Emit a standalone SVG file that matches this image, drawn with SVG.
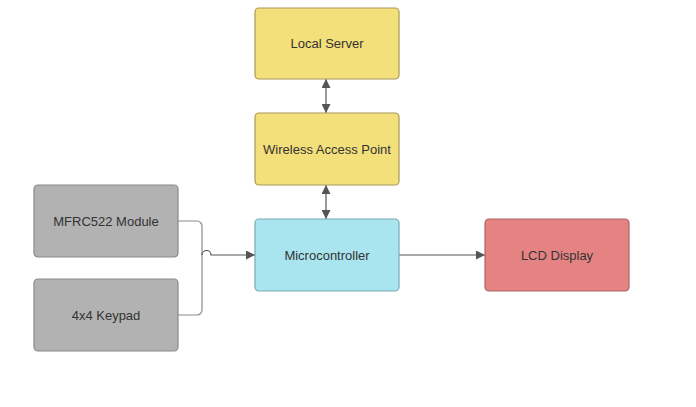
<svg xmlns="http://www.w3.org/2000/svg" width="696" height="407" viewBox="0 0 696 407">
<style>
.n{stroke-width:1.2}
.y{fill:#F4E07A;stroke:#A8975A}
.c{fill:#A9E5EF;stroke:#7AA9B3}
.r{fill:#E58383;stroke:#A86565}
.g{fill:#B2B2B2;stroke:#8A8A8A}
text{font-family:"Liberation Sans",Arial,sans-serif;font-size:13px;fill:#333;text-anchor:middle;dominant-baseline:central}
.l{fill:none;stroke:#555;stroke-width:1.2}
.b{fill:none;stroke:#8a8a8a;stroke-width:1.2}
</style>
<defs>
<marker id="a" viewBox="0 0 10 10" refX="10" refY="5" markerWidth="9.5" markerHeight="9" markerUnits="userSpaceOnUse" orient="auto-start-reverse">
<path d="M0,0L10,5L0,10z" fill="#555"/>
</marker>
</defs>
<rect width="696" height="407" fill="#fff"/>
<g id="connectors">
<path class="b" d="M178,221H197a5,5 0 0 1 5,5V310a5,5 0 0 1 -5,5H178"/>
<path class="l" d="M202,255a4.5,4.5 0 0 1 9,0H255" marker-end="url(#a)"/>
<path class="l" d="M399,255H485" marker-end="url(#a)"/>
<path class="l" d="M326,79V113" marker-start="url(#a)" marker-end="url(#a)"/>
<path class="l" d="M326,185V219" marker-start="url(#a)" marker-end="url(#a)"/>
</g>
<g id="local-server"><rect class="n y" x="255" y="8" width="144" height="71" rx="4"/><text x="327" y="43.5">Local Server</text></g>
<g id="wireless-access-point"><rect class="n y" x="255" y="113" width="144" height="72" rx="4"/><text x="327" y="149">Wireless Access Point</text></g>
<g id="microcontroller"><rect class="n c" x="255" y="219" width="144" height="72" rx="4"/><text x="327" y="255">Microcontroller</text></g>
<g id="lcd-display"><rect class="n r" x="485" y="219" width="144" height="72" rx="4"/><text x="557" y="255">LCD Display</text></g>
<g id="mfrc522-module"><rect class="n g" x="34" y="185" width="144" height="72" rx="4"/><text x="106" y="221">MFRC522 Module</text></g>
<g id="keypad"><rect class="n g" x="34" y="279" width="144" height="72" rx="4"/><text x="106" y="315">4x4 Keypad</text></g>
</svg>
